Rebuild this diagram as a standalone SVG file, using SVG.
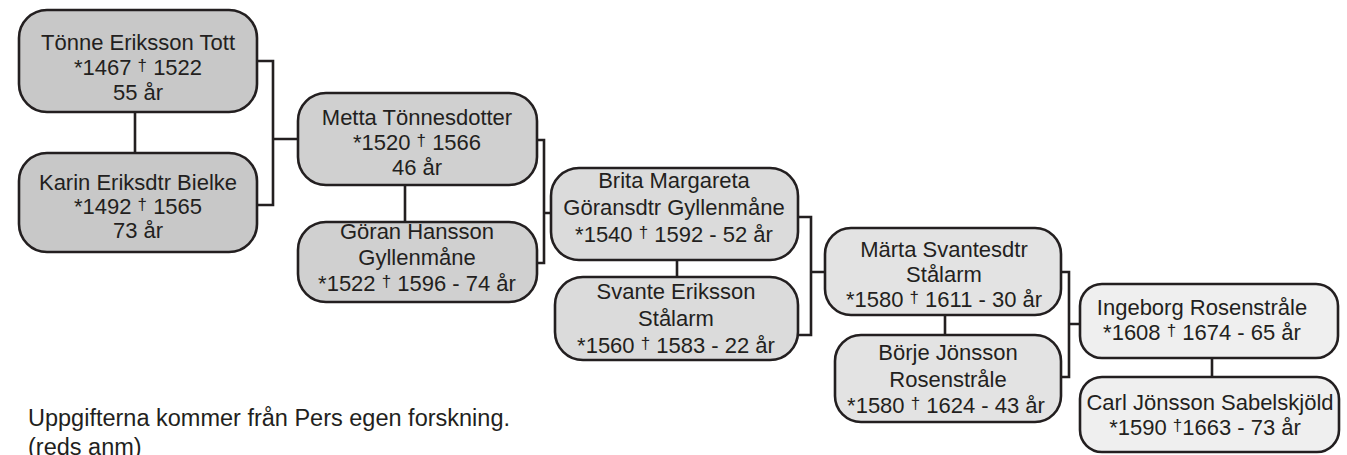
<svg xmlns="http://www.w3.org/2000/svg" width="1347" height="455" viewBox="0 0 1347 455">
<style>
.box{stroke:#231f20;stroke-width:2.6}
.g1{fill:#c8c8c8}.g2{fill:#d0d0d0}.g3{fill:#dbdbdb}.g4{fill:#e3e3e3}.g5{fill:#efefef}
text{font-family:"Liberation Sans",Arial,sans-serif;font-size:22px;fill:#231f20}
.c{text-anchor:middle}
.d{font-size:17px;baseline-shift:4px}
.foot{font-size:23.5px}
.conn{fill:none;stroke:#231f20;stroke-width:2.6}
</style>
<rect width="1347" height="455" fill="#ffffff"/>
<g id="connectors" class="conn">
<path d="M257,61H273V205H257M273,139H298"/>
<path d="M537,140H544V263H537M544,213H551"/>
<path d="M798,217H811V335H798M811,272H825"/>
<path d="M1061,272H1069V377H1061M1069,324H1080"/>
<path d="M135,112V153M405,185V222M677,260V277M945,315V335M1212,358V377"/>
</g>
<g id="n-tonne"><rect class="box g1" x="19" y="10" width="238" height="102" rx="28"/>
<text class="c" x="138" y="50">Tönne Eriksson Tott</text><text class="c" x="138" y="75">*1467 <tspan class="d">†</tspan> 1522</text><text class="c" x="138" y="100">55 år</text></g>
<g id="n-karin"><rect class="box g1" x="19" y="153" width="238" height="99" rx="28"/>
<text class="c" x="138" y="190">Karin Eriksdtr Bielke</text><text class="c" x="138" y="214">*1492 <tspan class="d">†</tspan> 1565</text><text class="c" x="138" y="238">73 år</text></g>
<g id="n-metta"><rect class="box g2" x="298" y="93" width="239" height="92" rx="28"/>
<text class="c" x="417" y="125">Metta Tönnesdotter</text><text class="c" x="417" y="150">*1520 <tspan class="d">†</tspan> 1566</text><text class="c" x="417" y="175">46 år</text></g>
<g id="n-goran"><rect class="box g2" x="298" y="222" width="239" height="80" rx="28"/>
<text class="c" x="417" y="239">Göran Hansson</text><text class="c" x="417" y="265">Gyllenmåne</text><text class="c" x="417" y="291">*1522 <tspan class="d">†</tspan> 1596 - 74 år</text></g>
<g id="n-brita"><rect class="box g3" x="551" y="168" width="247" height="92" rx="28"/>
<text class="c" x="674" y="188">Brita Margareta</text><text class="c" x="674" y="215">Göransdtr Gyllenmåne</text><text class="c" x="674" y="242">*1540 <tspan class="d">†</tspan> 1592 - 52 år</text></g>
<g id="n-svante"><rect class="box g3" x="555" y="277" width="243" height="83" rx="28"/>
<text class="c" x="676" y="299">Svante Eriksson</text><text class="c" x="676" y="326">Stålarm</text><text class="c" x="676" y="353">*1560 <tspan class="d">†</tspan> 1583 - 22 år</text></g>
<g id="n-marta"><rect class="box g4" x="825" y="228" width="236" height="87" rx="26"/>
<text class="c" x="944" y="257">Märta Svantesdtr</text><text class="c" x="944" y="282">Stålarm</text><text class="c" x="944" y="307">*1580 <tspan class="d">†</tspan> 1611 - 30 år</text></g>
<g id="n-borje"><rect class="box g4" x="835" y="335" width="226" height="87" rx="26"/>
<text class="c" x="948" y="360">Börje Jönsson</text><text class="c" x="948" y="387">Rosenstråle</text><text class="c" x="946" y="413">*1580 <tspan class="d">†</tspan> 1624 - 43 år</text></g>
<g id="n-ingeborg"><rect class="box g5" x="1080" y="284" width="258" height="74" rx="22"/>
<text class="c" x="1202" y="315">Ingeborg Rosenstråle</text><text class="c" x="1202" y="340">*1608 <tspan class="d">†</tspan> 1674 - 65 år</text></g>
<g id="n-carl"><rect class="box g5" x="1080" y="377" width="259" height="75" rx="22"/>
<text class="c" x="1210" y="410">Carl Jönsson Sabelskjöld</text><text class="c" x="1205" y="435">*1590  <tspan class="d">†</tspan>1663 - 73 år</text></g>
<g id="footer">
<text class="foot" x="28" y="426">Uppgifterna kommer från Pers egen forskning.</text>
<text class="foot" x="28" y="455">(reds anm)</text>
</g>
</svg>
